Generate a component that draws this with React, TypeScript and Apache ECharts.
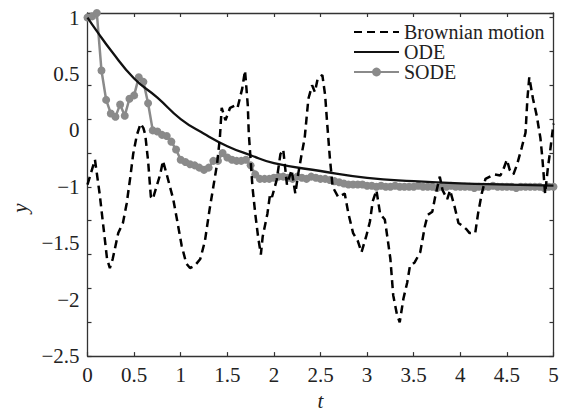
import React, { useEffect, useRef } from "react";
import * as echarts from "echarts";

// y-axis label positions (axis units) and the text printed there
const yLabelValues = [-2.5, -2, -1.5, -1, -0.5, 0, 0.5];
const yLabelTexts = ["−2.5", "−2", "−1.5", "−1", "0", "0.5", "1"];

// Brownian motion (dashed)
const brownianT = [
  0, 0.08, 0.13, 0.17, 0.21, 0.24, 0.27, 0.33, 0.38, 0.42, 0.46, 0.49, 0.53, 0.57, 0.6, 0.62, 0.65, 0.68, 0.7, 0.78,
  0.81, 0.85, 0.92, 0.96, 1.01, 1.06, 1.1, 1.15, 1.21, 1.26, 1.31, 1.35, 1.39, 1.42, 1.44, 1.48, 1.53, 1.58, 1.61, 1.66,
  1.69, 1.72, 1.73, 1.77, 1.8, 1.83, 1.86, 1.88, 1.93, 1.96, 1.98, 2.03, 2.07, 2.1, 2.14, 2.19, 2.23, 2.26, 2.3, 2.33,
  2.37, 2.41, 2.44, 2.47, 2.52, 2.55, 2.57, 2.6, 2.63, 2.69, 2.76, 2.8, 2.85, 2.9, 2.94, 2.99, 3.03, 3.06, 3.1, 3.14,
  3.19, 3.22, 3.25, 3.28, 3.32, 3.35, 3.39, 3.43, 3.46, 3.51, 3.57, 3.62, 3.65, 3.7, 3.73, 3.78, 3.81, 3.86, 3.89, 3.94,
  3.98, 4.03, 4.07, 4.1, 4.16, 4.19, 4.23, 4.27, 4.34, 4.37, 4.43, 4.46, 4.5, 4.53, 4.57, 4.61, 4.66, 4.7, 4.72, 4.74,
  4.78, 4.82, 4.86, 4.88, 4.91, 4.94, 4.96, 5.0,
];
const brownianY = [
  -0.98, -0.76, -1.06, -1.35, -1.64, -1.72, -1.64, -1.41, -1.32, -1.15, -0.91, -0.71, -0.54, -0.44, -0.48, -0.54, -0.77, -1.09, -1.11, -0.89,
  -0.77, -0.89, -1.11, -1.29, -1.52, -1.68, -1.72, -1.7, -1.64, -1.48, -1.2, -1.0, -0.8, -0.57, -0.3, -0.41, -0.3, -0.28, -0.3, -0.13,
  0.03, -0.28, -0.52, -1.0, -1.24, -1.44, -1.6, -1.44, -1.24, -1.06, -1.09, -0.94, -0.71, -0.67, -0.98, -0.85, -1.06, -0.89, -0.7, -0.57,
  -0.22, -0.1, -0.16, -0.04, -0.01, -0.19, -0.42, -0.74, -1.0, -1.09, -1.06, -1.24, -1.41, -1.48, -1.58, -1.44, -1.31, -1.13, -1.03, -1.24,
  -1.29, -1.46, -1.64, -1.96, -2.13, -2.2, -1.99, -1.85, -1.7, -1.67, -1.58, -1.35, -1.25, -1.22, -1.09, -0.91, -1.03, -1.11, -1.03, -1.18,
  -1.32, -1.35, -1.38, -1.41, -1.41, -1.24, -1.06, -0.93, -0.9, -0.89, -0.9, -0.85, -0.76, -0.85, -0.89, -0.8, -0.65, -0.52, -0.22, -0.03,
  -0.22, -0.37, -0.57, -0.74, -1.06, -0.83, -0.71, -0.44,
];

// ODE (solid)
const odeT = [0, 0.1, 0.25, 0.5, 0.75, 1.0, 1.25, 1.5, 1.75, 2.0, 2.5, 3.0, 3.5, 4.0, 4.5, 5.0];
const odeY = [0.5, 0.38, 0.21, -0.04, -0.21, -0.4, -0.53, -0.64, -0.72, -0.79, -0.86, -0.92, -0.95, -0.97, -0.98, -0.99];

// SODE (grey, markers), sampled every 0.05
const sodeStep = 0.05;
const sodeY = [
  0.5, 0.51, 0.54, 0.03, -0.23, -0.35, -0.38, -0.27, -0.37, -0.22,
  -0.19, -0.03, -0.07, -0.26, -0.5, -0.51, -0.54, -0.55, -0.6, -0.67,
  -0.76, -0.78, -0.8, -0.81, -0.83, -0.85, -0.83, -0.77, -0.77, -0.7,
  -0.74, -0.76, -0.77, -0.77, -0.76, -0.81, -0.89, -0.93, -0.93, -0.93,
  -0.92, -0.91, -0.91, -0.92, -0.93, -0.91, -0.92, -0.93, -0.91, -0.92,
  -0.93, -0.93, -0.94, -0.95, -0.96, -0.97, -0.98, -0.98, -0.98, -0.98,
  -0.99, -0.99, -1.0, -0.99, -1.0, -1.0, -0.99, -1.0, -1.0, -1.0,
  -1.0, -0.99, -1.0, -1.0, -1.0, -1.01, -1.0, -1.0, -0.99, -1.0,
  -1.0, -1.0, -1.0, -1.01, -1.0, -1.0, -1.0, -0.99, -1.0, -1.0,
  -1.0, -1.0, -1.01, -1.0, -1.0, -1.0, -1.0, -1.0, -1.01, -1.0,
  -1.0,
];

const FONT = "'Liberation Serif', serif";
const AXIS_COLOR = "#333";
const TEXT_COLOR = "#222";
const SODE_COLOR = "#8a8a8a";

export default function App() {
  const ref = useRef<HTMLDivElement>(null);
  useEffect(() => {
    document.body.style.margin = "0";
    const chart = echarts.init(ref.current as HTMLDivElement, null, { renderer: "svg" });
    const axisLine = { show: true, onZero: false, lineStyle: { color: AXIS_COLOR, width: 1.3 } };
    const axisTick = { show: true, inside: true, length: 4, lineStyle: { color: AXIS_COLOR, width: 1.2 } };
    const yMin = -2.5;
    const yMax = 0.54;
    const option = {
      animation: false,
      backgroundColor: "#fff",
      grid: { left: 87.5, right: 17.5, top: 13, bottom: 54 },
      legend: {
        data: [
          { name: "Brownian motion", itemStyle: { opacity: 0 } },
          { name: "ODE", itemStyle: { opacity: 0 } },
          { name: "SODE" },
        ],
        orient: "vertical",
        left: 353,
        top: 22,
        padding: 0,
        itemGap: 0,
        itemWidth: 45,
        itemHeight: 11,
        textStyle: { fontFamily: FONT, fontSize: 20, lineHeight: 20, color: TEXT_COLOR },
      },
      xAxis: [
        {
          type: "value",
          position: "bottom",
          min: 0,
          max: 5,
          interval: 0.5,
          axisLine,
          axisTick,
          splitLine: { show: false },
          axisLabel: { fontFamily: FONT, fontSize: 21, color: TEXT_COLOR, margin: 8 },
          name: "t",
          nameLocation: "middle",
          nameGap: 32,
          nameTextStyle: { fontFamily: FONT, fontSize: 21, fontStyle: "italic", color: TEXT_COLOR },
        },
        {
          type: "value",
          position: "top",
          min: 0,
          max: 5,
          interval: 0.5,
          axisLine,
          axisTick,
          splitLine: { show: false },
          axisLabel: { show: false },
        },
      ],
      yAxis: [
        {
          type: "value",
          position: "left",
          min: yMin,
          max: yMax,
          interval: 0.5,
          axisLine: { show: false, onZero: false },
          axisTick: { show: false },
          splitLine: { show: false },
          axisLabel: {
            fontFamily: FONT,
            fontSize: 21,
            color: TEXT_COLOR,
            margin: 8,
            formatter: (v: number) => {
              const i = yLabelValues.findIndex((x) => Math.abs(x - v) < 1e-6);
              return i >= 0 ? yLabelTexts[i] : "";
            },
          },
        },
        {
          type: "value",
          position: "left",
          min: yMin,
          max: yMax,
          interval: 0.3,
          axisLine,
          axisTick,
          splitLine: { show: false },
          axisLabel: { show: false },
        },
        {
          type: "value",
          position: "right",
          min: yMin,
          max: yMax,
          interval: 0.3,
          axisLine,
          axisTick,
          splitLine: { show: false },
          axisLabel: { show: false },
        },
      ],
      graphic: [
        {
          type: "text",
          x: 20,
          y: 208,
          rotation: Math.PI / 2,
          style: {
            text: "y",
            fontFamily: FONT,
            fontSize: 21,
            fontStyle: "italic",
            fill: TEXT_COLOR,
            align: "center",
            verticalAlign: "middle",
            textAlign: "center",
            textVerticalAlign: "middle",
          },
        },
      ],
      series: [
        {
          name: "SODE",
          type: "line",
          xAxisIndex: 0,
          yAxisIndex: 0,
          data: sodeY.map((v, i) => [+(i * sodeStep).toFixed(2), v]),
          symbol: "circle",
          symbolSize: 8,
          showSymbol: true,
          lineStyle: { color: SODE_COLOR, width: 2.5 },
          itemStyle: { color: SODE_COLOR },
          z: 2,
        },
        {
          name: "ODE",
          type: "line",
          xAxisIndex: 0,
          yAxisIndex: 0,
          data: odeT.map((t, i) => [t, odeY[i]]),
          symbol: "none",
          smooth: true,
          lineStyle: { color: "#111", width: 2.3 },
          itemStyle: { color: "#111" },
          z: 3,
        },
        {
          name: "Brownian motion",
          type: "line",
          xAxisIndex: 0,
          yAxisIndex: 0,
          data: brownianT.map((t, i) => [t, brownianY[i]]),
          symbol: "none",
          lineStyle: { color: "#000", width: 2.5, type: [8, 5] },
          itemStyle: { color: "#000" },
          z: 4,
        },
      ],
    };
    chart.setOption(option as any);
    return () => chart.dispose();
  }, []);
  return <div ref={ref} style={{ width: 571, height: 416 }} />;
}
